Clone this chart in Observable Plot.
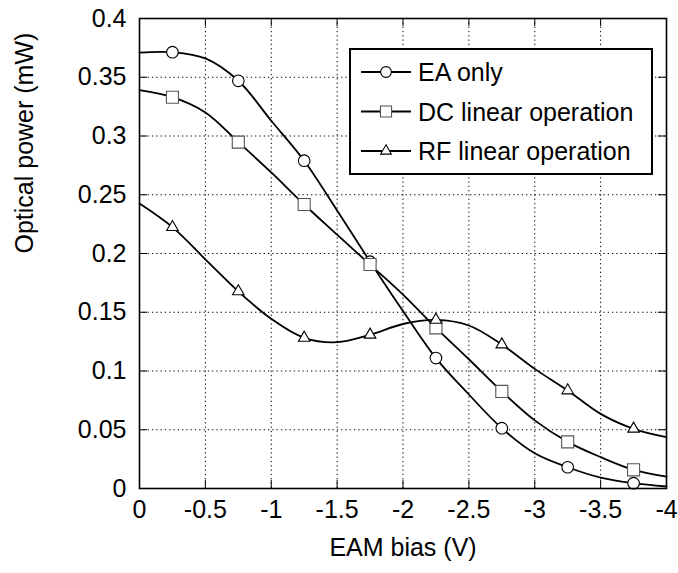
<!DOCTYPE html>
<html>
<head>
<meta charset="utf-8">
<script src="https://cdn.jsdelivr.net/npm/d3@7"></script>
<script src="https://cdn.jsdelivr.net/npm/@observablehq/plot@0.6"></script>
<style>
  html, body { margin: 0; padding: 0; background: #fff; }
  #chart { width: 678px; height: 573px; }
</style>
</head>
<body>
<div id="chart"></div>
<script>
// ---- data ----
const biasV = [0, -0.25, -0.5, -0.75, -1.0, -1.25, -1.5, -1.75, -2.0, -2.25, -2.5, -2.75, -3.0, -3.25, -3.5, -3.75, -4.0];
const eaOnly = [0.371, 0.3713, 0.3660, 0.347, 0.313, 0.279, 0.2366, 0.193, 0.151, 0.111, 0.080, 0.0513, 0.030, 0.0181, 0.0093, 0.0045, 0.0017];
const dcLinear = [0.339, 0.333, 0.320, 0.2948, 0.269, 0.2417, 0.216, 0.1906, 0.165, 0.1367, 0.110, 0.0826, 0.058, 0.0397, 0.0267, 0.0159, 0.0102];
const rfLinear = [0.2425, 0.2224, 0.195, 0.1677, 0.1444, 0.1282, 0.1245, 0.1308, 0.140, 0.1435, 0.1387, 0.1225, 0.1018, 0.0834, 0.0635, 0.0508, 0.0437];
const markerBias = [-0.25, -0.75, -1.25, -1.75, -2.25, -2.75, -3.25, -3.75];
const seriesNames = ["EA only", "DC linear operation", "RF linear operation"];
const xTicks = [0, -0.5, -1, -1.5, -2, -2.5, -3, -3.5, -4];
const yTicks = [0, 0.05, 0.1, 0.15, 0.2, 0.25, 0.3, 0.35, 0.4];
const xTitle = "EAM bias (V)";
const yTitle = "Optical power (mW)";

// ---- tables built from the arrays ----
const seriesValues = [eaOnly, dcLinear, rfLinear];
const symbols = ["circle", "square", "triangle"];
const radii = [5.8, 6.8, 4.3];
const markerStroke = ["#000", "#555", "#000"];
const rows = seriesNames.map((name, s) => biasV.map((x, i) => ({series: name, x, y: seriesValues[s][i]})));
const markerRows = rows.map(r => r.filter(d => markerBias.includes(d.x)));

const W = 678, H = 573, ML = 139, MR = 12, MT = 18, MB = 85;
const fw = W - ML - MR, fh = H - MT - MB, tk = 8;
const FONT = "'Liberation Sans', Arial, Helvetica, sans-serif";
const FS = 25;

const marks = [
  Plot.ruleX(xTicks, {x: d => d, stroke: "#000", strokeWidth: 1, strokeDasharray: "1.3,3"}),
  Plot.ruleY(yTicks, {y: d => d, stroke: "#000", strokeWidth: 1, strokeDasharray: "1.3,3"}),
  Plot.ruleX(xTicks, {x: d => d, stroke: "#000", strokeWidth: 1, insetTop: fh - tk}),
  Plot.ruleX(xTicks, {x: d => d, stroke: "#000", strokeWidth: 1, insetBottom: fh - tk}),
  Plot.ruleY(yTicks, {y: d => d, stroke: "#000", strokeWidth: 1, insetRight: fw - tk}),
  Plot.ruleY(yTicks, {y: d => d, stroke: "#000", strokeWidth: 1, insetLeft: fw - tk}),
];
rows.forEach((r) => {
  marks.push(Plot.line(r, {x: "x", y: "y", curve: "catmull-rom", stroke: "#000", strokeWidth: 1.8}));
});
markerRows.forEach((r, s) => {
  marks.push(Plot.dot(r, {x: "x", y: "y", symbol: () => symbols[s], r: radii[s], fill: "#fff", stroke: markerStroke[s], strokeWidth: 1.1}));
});
marks.push(
  Plot.frame({stroke: "#000", strokeWidth: 1.6}),
  Plot.axisX({ticks: xTicks, tickSize: 0, tickPadding: 12, tickFormat: d => String(d), label: null, fontSize: FS, fill: "#000"}),
  Plot.axisY({ticks: yTicks, tickSize: 0, tickPadding: 13, tickFormat: d => String(d), label: null, fontSize: FS, fill: "#000"}),
  Plot.text([xTitle], {text: d => d, frameAnchor: "bottom", dy: 67, fontSize: FS, fill: "#000"}),
  Plot.text([yTitle], {text: d => d, frameAnchor: "left", rotate: -90, dx: -115, fontSize: FS, fill: "#000"})
);

const svg = Plot.plot({
  width: W, height: H,
  marginLeft: ML, marginRight: MR, marginTop: MT, marginBottom: MB,
  style: {fontFamily: FONT, fontSize: FS + "px", color: "#000", background: "#fff"},
  x: {type: "linear", domain: [0, -4]},
  y: {type: "linear", domain: [0, 0.4]},
  symbol: {type: "identity"},
  marks
});

// ---- legend box drawn inside the plot area ----
const lg = d3.select(svg).append("g").attr("font-family", FONT).attr("font-size", FS).attr("text-anchor", "start");
lg.append("rect").attr("x", 350).attr("y", 49).attr("width", 302).attr("height", 125)
  .attr("fill", "#fff").attr("stroke", "#000").attr("stroke-width", 2);
const d3sym = {circle: d3.symbolCircle, square: d3.symbolSquare, triangle: d3.symbolTriangle};
seriesNames.forEach((name, s) => {
  const y = 72 + s * 39.5;
  lg.append("line").attr("x1", 361).attr("x2", 411).attr("y1", y).attr("y2", y).attr("stroke", "#000").attr("stroke-width", 1.8);
  lg.append("path").attr("transform", `translate(386,${y})`)
    .attr("d", d3.symbol(d3sym[symbols[s]], Math.PI * radii[s] * radii[s] * 0.85)())
    .attr("fill", "#fff").attr("stroke", markerStroke[s]).attr("stroke-width", 1.1);
  lg.append("text").attr("x", 418).attr("y", y + 9).attr("fill", "#000").attr("text-anchor", "start").text(name);
});

document.getElementById("chart").appendChild(svg);
</script>
</body>
</html>
